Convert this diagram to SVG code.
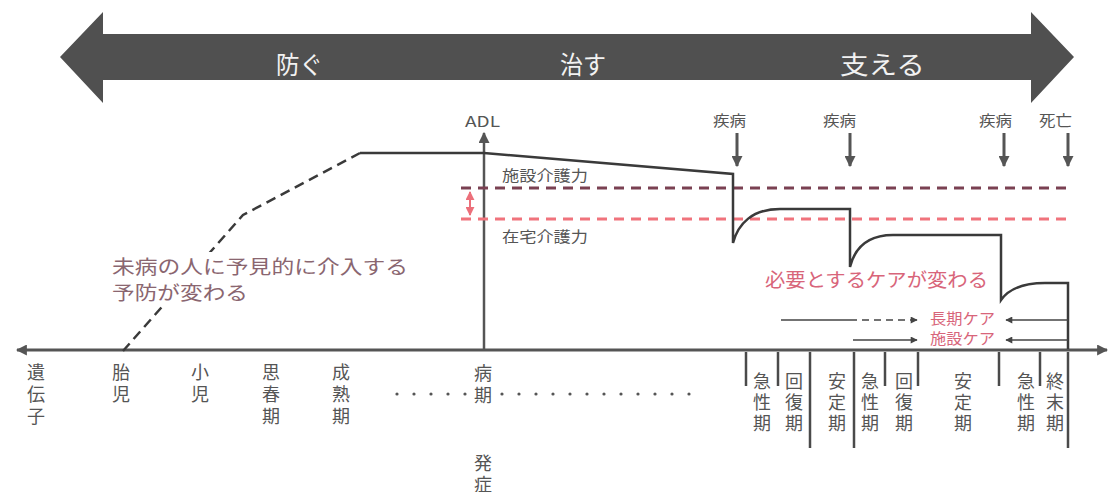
<svg xmlns="http://www.w3.org/2000/svg" width="1110" height="492" viewBox="0 0 1110 492">
<defs>
<style>
text{font-family:"Noto Sans CJK JP","Noto Sans",sans-serif;}
.band{fill:#f2f2f2;font-size:25px;}
.lbl{fill:#555;font-size:15px;}
.vt{fill:#555;font-size:18px;text-anchor:middle;}
.mauve{fill:#8a6670;font-size:19px;}
.pink{fill:#d8657a;font-size:19px;}
.pinks{fill:#d8657a;font-size:15px;}
.curve{fill:none;stroke:#3a3a3a;stroke-width:2.5;}
.tick{stroke:#4a4a4a;stroke-width:2.5;}
.thin{stroke:#444;stroke-width:1.5;fill:none;}
</style>
<marker id="ah" viewBox="0 0 10 10" refX="9" refY="5" markerWidth="11" markerHeight="11" markerUnits="userSpaceOnUse" orient="auto-start-reverse"><path d="M0,0 L10,5 L0,10 z" fill="#555"/></marker>
<marker id="ahs" viewBox="0 0 10 10" refX="9" refY="5" markerWidth="8" markerHeight="7" markerUnits="userSpaceOnUse" orient="auto-start-reverse"><path d="M0,0 L10,5 L0,10 z" fill="#444"/></marker>
<marker id="ahp" viewBox="0 0 10 10" refX="9" refY="5" markerWidth="9" markerHeight="9" markerUnits="userSpaceOnUse" orient="auto-start-reverse"><path d="M0,0 L10,5 L0,10 z" fill="#ec6f7a"/></marker>
</defs>

<g id="band">
<polygon points="60,57 103,12 103,34 1031,34 1031,12 1074,57 1031,103 1031,80 103,80 103,103" fill="#505050"/>
<text class="band" x="276" y="74" textLength="47" lengthAdjust="spacingAndGlyphs">防ぐ</text>
<text class="band" x="560" y="74" textLength="46" lengthAdjust="spacingAndGlyphs">治す</text>
<text class="band" x="840" y="74" textLength="85" lengthAdjust="spacingAndGlyphs">支える</text>
</g>

<g id="connectors">
<line x1="17" y1="350" x2="1107" y2="350" stroke="#555" stroke-width="3" marker-start="url(#ah)" marker-end="url(#ah)"/>
<line x1="484" y1="350" x2="484" y2="133" stroke="#555" stroke-width="2.5" marker-end="url(#ah)"/>
<line x1="461" y1="188" x2="1070" y2="188" stroke="#7a4152" stroke-width="3" stroke-dasharray="10,7"/>
<line x1="461" y1="219" x2="1070" y2="219" stroke="#f0737c" stroke-width="3" stroke-dasharray="10,7"/>
<line x1="470" y1="192" x2="470" y2="215" stroke="#ec6f7a" stroke-width="2" marker-start="url(#ahp)" marker-end="url(#ahp)"/>
<path class="curve" d="M123,351 L243,215 L360,153" stroke-dasharray="10,6"/>
<path class="curve" d="M360,153 L484,153 L733,174 L733,243 C738,224 752,209 780,209 L850,209 L850,267 C855,247 868,235 893,235 L1001,235 L1001,300 C1008,290 1022,283 1045,283 L1068,283 L1068,349"/>
<line x1="737" y1="133" x2="737" y2="166" stroke="#555" stroke-width="3" marker-end="url(#ah)"/>
<line x1="850" y1="133" x2="850" y2="166" stroke="#555" stroke-width="3" marker-end="url(#ah)"/>
<line x1="1004" y1="133" x2="1004" y2="166" stroke="#555" stroke-width="3" marker-end="url(#ah)"/>
<line x1="1068" y1="133" x2="1068" y2="166" stroke="#555" stroke-width="3" marker-end="url(#ah)"/>
<line class="thin" x1="781" y1="320" x2="850" y2="320"/>
<line class="thin" x1="850" y1="320" x2="917" y2="320" stroke-dasharray="7,5" marker-end="url(#ahs)"/>
<line class="thin" x1="1068" y1="320" x2="1006" y2="320" marker-end="url(#ahs)"/>
<line class="thin" x1="853" y1="340" x2="917" y2="340" marker-end="url(#ahs)"/>
<line class="thin" x1="1068" y1="340" x2="1006" y2="340" marker-end="url(#ahs)"/>
<line class="tick" x1="746" y1="352" x2="746" y2="386"/>
<line class="tick" x1="778" y1="352" x2="778" y2="386"/>
<line class="tick" x1="810" y1="352" x2="810" y2="448"/>
<line class="tick" x1="854" y1="352" x2="854" y2="448"/>
<line class="tick" x1="885" y1="352" x2="885" y2="386"/>
<line class="tick" x1="918" y1="352" x2="918" y2="386"/>
<line class="tick" x1="999" y1="352" x2="999" y2="386"/>
<line class="tick" x1="1040" y1="352" x2="1040" y2="386"/>
<line class="tick" x1="1068" y1="352" x2="1068" y2="448"/>
</g>

<g id="adl-label"><text class="lbl" x="465" y="127" textLength="35" lengthAdjust="spacingAndGlyphs">ADL</text></g>
<g id="disease-labels">
<text class="lbl" x="713" y="126" textLength="33" lengthAdjust="spacingAndGlyphs">疾病</text>
<text class="lbl" x="823" y="126" textLength="33" lengthAdjust="spacingAndGlyphs">疾病</text>
<text class="lbl" x="979" y="126" textLength="33" lengthAdjust="spacingAndGlyphs">疾病</text>
<text class="lbl" x="1039" y="126" textLength="33" lengthAdjust="spacingAndGlyphs">死亡</text>
</g>
<g id="care-labels">
<text class="lbl" x="502" y="181" textLength="86" lengthAdjust="spacingAndGlyphs">施設介護力</text>
<text class="lbl" x="502" y="242" textLength="86" lengthAdjust="spacingAndGlyphs">在宅介護力</text>
</g>
<g id="prevention-note">
<rect x="108" y="252" width="305" height="53" fill="#fff"/>
<text class="mauve" x="112" y="274" textLength="296" lengthAdjust="spacingAndGlyphs">未病の人に予見的に介入する</text>
<text class="mauve" x="112" y="300" textLength="136" lengthAdjust="spacingAndGlyphs">予防が変わる</text>
</g>
<g id="care-note">
<text class="pink" x="765" y="287" textLength="223" lengthAdjust="spacingAndGlyphs">必要とするケアが変わる</text>
<text class="pinks" x="930" y="324" textLength="65" lengthAdjust="spacingAndGlyphs">長期ケア</text>
<text class="pinks" x="930" y="344" textLength="65" lengthAdjust="spacingAndGlyphs">施設ケア</text>
</g>
<g id="life-stages">
<text class="vt"><tspan x="36" y="379">遺</tspan><tspan x="36" dy="22">伝</tspan><tspan x="36" dy="22">子</tspan></text>
<text class="vt"><tspan x="121" y="379">胎</tspan><tspan x="121" dy="22">児</tspan></text>
<text class="vt"><tspan x="200" y="379">小</tspan><tspan x="200" dy="22">児</tspan></text>
<text class="vt"><tspan x="271" y="379">思</tspan><tspan x="271" dy="22">春</tspan><tspan x="271" dy="22">期</tspan></text>
<text class="vt"><tspan x="341" y="379">成</tspan><tspan x="341" dy="22">熟</tspan><tspan x="341" dy="22">期</tspan></text>
<text class="vt"><tspan x="483" y="380">病</tspan><tspan x="483" dy="22">期</tspan></text>
<text class="vt"><tspan x="483" y="470">発</tspan><tspan x="483" dy="21">症</tspan></text>
</g>
<g id="dots" fill="#555">
<circle cx="397" cy="394" r="1.6"/><circle cx="414" cy="394" r="1.6"/><circle cx="431" cy="394" r="1.6"/><circle cx="448" cy="394" r="1.6"/><circle cx="465" cy="394" r="1.6"/>
<circle cx="502" cy="394" r="1.6"/><circle cx="519" cy="394" r="1.6"/><circle cx="536" cy="394" r="1.6"/><circle cx="553" cy="394" r="1.6"/><circle cx="570" cy="394" r="1.6"/><circle cx="587" cy="394" r="1.6"/><circle cx="604" cy="394" r="1.6"/><circle cx="621" cy="394" r="1.6"/><circle cx="638" cy="394" r="1.6"/><circle cx="655" cy="394" r="1.6"/><circle cx="672" cy="394" r="1.6"/><circle cx="689" cy="394" r="1.6"/>
</g>
<g id="disease-stages">
<text class="vt"><tspan x="762" y="388">急</tspan><tspan x="762" dy="21">性</tspan><tspan x="762" dy="21">期</tspan></text>
<text class="vt"><tspan x="794" y="388">回</tspan><tspan x="794" dy="21">復</tspan><tspan x="794" dy="21">期</tspan></text>
<text class="vt"><tspan x="837" y="388">安</tspan><tspan x="837" dy="21">定</tspan><tspan x="837" dy="21">期</tspan></text>
<text class="vt"><tspan x="870" y="388">急</tspan><tspan x="870" dy="21">性</tspan><tspan x="870" dy="21">期</tspan></text>
<text class="vt"><tspan x="904" y="388">回</tspan><tspan x="904" dy="21">復</tspan><tspan x="904" dy="21">期</tspan></text>
<text class="vt"><tspan x="963" y="388">安</tspan><tspan x="963" dy="21">定</tspan><tspan x="963" dy="21">期</tspan></text>
<text class="vt"><tspan x="1026" y="388">急</tspan><tspan x="1026" dy="21">性</tspan><tspan x="1026" dy="21">期</tspan></text>
<text class="vt"><tspan x="1055" y="388">終</tspan><tspan x="1055" dy="21">末</tspan><tspan x="1055" dy="21">期</tspan></text>
</g>
</svg>
